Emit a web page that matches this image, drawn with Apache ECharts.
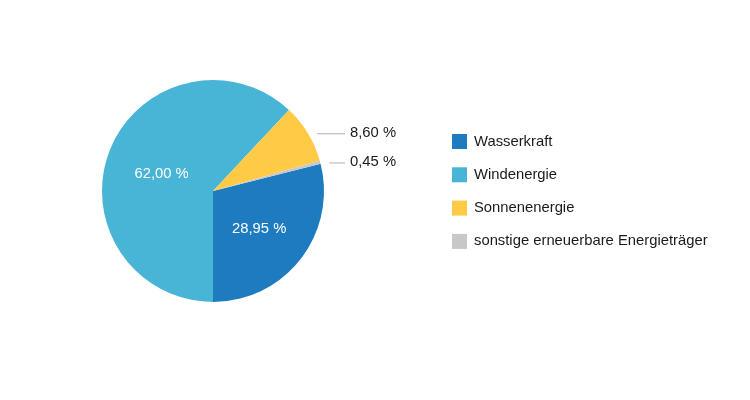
<!DOCTYPE html>
<html>
<head>
<meta charset="utf-8">
<script src="https://cdn.jsdelivr.net/npm/echarts@6/dist/echarts.min.js"></script>
<style>html,body{margin:0;padding:0;background:#fff}#c{width:750px;height:400px}</style>
</head>
<body>
<div id="c"></div>
<script>
const categories = ['Wasserkraft', 'Windenergie', 'Sonnenenergie', 'sonstige erneuerbare Energieträger'];
const values = [28.95, 62.00, 8.60, 0.45];
const colors = ['#1f7bbf', '#48b4d6', '#ffcb47', '#c8c8c8'];
const insideLabel = [true, true, false, false];

const FONT = '"Liberation Sans", Arial, Helvetica, sans-serif';
const fmt = v => v.toFixed(2).replace('.', ',') + ' %';
const PIE_CX = 213, PIE_CY = 191, PIE_R = 111;
const OUT_LABEL_GAP = 26;

const chart = echarts.init(document.getElementById('c'), null, {renderer: 'canvas'});
const data = categories.map((name, i) => ({
  name: name,
  value: values[i],
  itemStyle: {color: colors[i]},
  label: insideLabel[i]
    ? {position: 'inside', color: '#ffffff', offset: i === 1 ? [3, 4] : [0, 2]}
    : {position: 'outside', color: '#1a1a1a'},
  labelLine: {show: !insideLabel[i]}
}));

chart.setOption({
  animation: false,
  legend: {
    orient: 'vertical',
    left: 452,
    top: 134,
    padding: 0,
    itemWidth: 15,
    itemHeight: 15,
    itemGap: 18.3,
    icon: 'rect',
    textStyle: {fontSize: 14.8, color: '#1a1a1a', fontFamily: FONT, padding: [2, 0, 0, 2]},
    data: categories
  },
  series: [{
    type: 'pie',
    center: [PIE_CX, PIE_CY],
    radius: PIE_R,
    startAngle: -90 + 360 * values[0] / 100,
    clockwise: true,
    data: data,
    label: {
      fontSize: 14.8,
      fontFamily: FONT,
      formatter: p => fmt(p.value),
      distanceToLabelLine: 5
    },
    labelLine: {
      length: 1,
      length2: 20,
      lineStyle: {color: '#b0b0b0', width: 1}
    },
    labelLayout: function (params) {
      const p = params.labelLinePoints;
      if (!p || params.dataIndex < 2) return {};
      const r = params.labelRect;
      const x = PIE_CX + PIE_R + OUT_LABEL_GAP;
      const y = r.y + r.height / 2 + 1;
      return {
        x: x,
        align: 'left',
        labelLinePoints: [[p[0][0] + 9, y], [p[1][0] + 9, y], [x - 5, y]]
      };
    },
    emphasis: {disabled: true}
  }]
});
</script>
</body>
</html>
